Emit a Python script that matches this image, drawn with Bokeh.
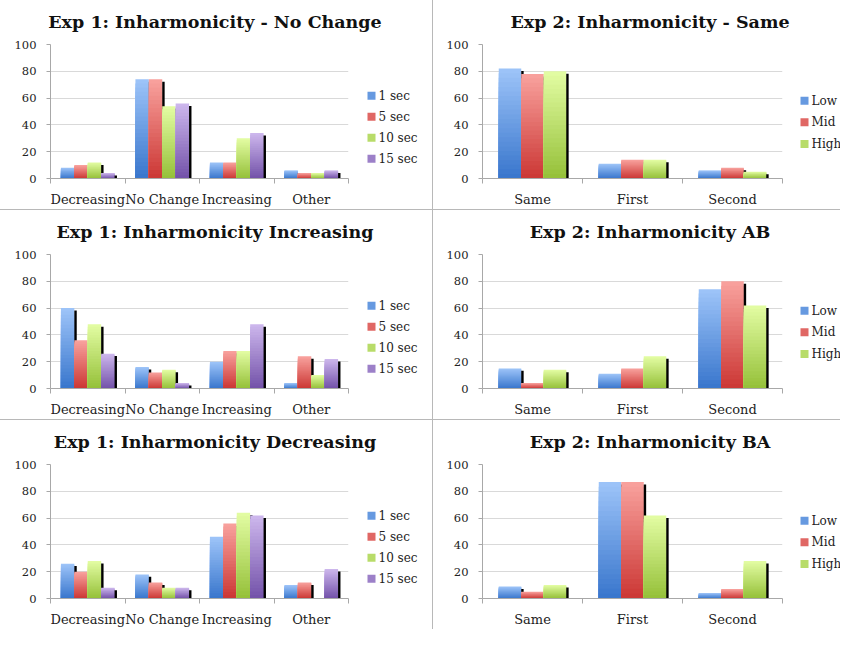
from bokeh.plotting import figure
from bokeh.models import ColumnDataSource, FixedTicker, Div, Range1d
from bokeh.layouts import row, column
from bokeh.core.properties import value
from bokeh.embed import file_html
from bokeh.resources import INLINE

# ---------------- data ----------------
exp1_categories = ["Decreasing", "No Change", "Increasing", "Other"]
exp1_series = ["1 sec", "5 sec", "10 sec", "15 sec"]
exp2_categories = ["Same", "First", "Second"]
exp2_series = ["Low", "Mid", "High"]
y_ticks = [0, 20, 40, 60, 80, 100]

# Exp 1 values, one list per series (1 sec, 5 sec, 10 sec, 15 sec)
exp1_no_change = [[8, 74, 12, 6], [10, 74, 12, 4], [12, 54, 30, 4], [4, 56, 34, 6]]
exp1_increasing = [[60, 16, 20, 4], [36, 12, 28, 24], [48, 14, 28, 10], [26, 4, 48, 22]]
exp1_decreasing = [[26, 18, 46, 10], [20, 12, 56, 12], [28, 8, 64, 0], [8, 8, 62, 22]]

# Exp 2 values, one list per series (Low, Mid, High)
exp2_same = [[82, 11, 6], [78, 14, 8], [80, 14, 5]]
exp2_ab = [[15, 11, 74], [4, 15, 80], [14, 24, 62]]
exp2_ba = [[9, 87, 4], [5, 87, 7], [10, 62, 28]]

# ---------------- style ----------------
FONT = "DejaVu Serif"
PALETTE = [("#9cc3f8", "#3a77cd"),   # blue
           ("#f8a09c", "#cc3936"),   # red
           ("#e2fca2", "#96c13a"),   # green
           ("#ccb6ec", "#7453aa")]   # purple
N_BANDS = 24
PANEL_H = 209
TITLE_H = 33
PLOT_H = PANEL_H - TITLE_H
B_TOP, B_BOT = 11, 29
FRAME_H = PLOT_H - B_TOP - B_BOT
GREY = "#a8a8a8"


def mix(c1, c2, t):
    a = [int(c1[i:i + 2], 16) for i in (1, 3, 5)]
    b = [int(c2[i:i + 2], 16) for i in (1, 3, 5)]
    return "#%02x%02x%02x" % tuple(round(a[k] + (b[k] - a[k]) * t) for k in range(3))


def make_panel(title, cats, series, values, bl, frame_w, leg_w, group_frac,
               pad_l, pad_r, leg_x, leg_y0, leg_pitch, leg_font):
    width = bl + frame_w + 2
    p = figure(width=width, height=PLOT_H, output_backend="svg", toolbar_location=None,
               x_range=Range1d(0.5, len(cats) + 0.5), y_range=Range1d(0, 100),
               min_border_left=bl, min_border_right=2,
               min_border_top=B_TOP, min_border_bottom=B_BOT,
               background_fill_color="white", border_fill_color="white")
    p.outline_line_color = None

    px_x = 1.0 / (frame_w / len(cats))
    px_y = 100.0 / FRAME_H

    n = len(series)
    bw = group_frac / n
    for i, vals in enumerate(values):
        light, dark = PALETTE[i]
        xs = [j + 1 - group_frac / 2 + bw * (i + 0.5) for j in range(len(cats))]
        bx, btop, bcol = [], [], []
        for k in range(N_BANDS):
            col = mix(light, dark, k / (N_BANDS - 1))
            for x, v in zip(xs, vals):
                if v > 0:
                    bx.append(x)
                    btop.append(v * (N_BANDS - k) / N_BANDS)
                    bcol.append(col)
        src = ColumnDataSource(dict(x=bx, top=btop, color=bcol))
        p.vbar(x="x", top="top", bottom=0, width=bw, source=src,
               fill_color="color", line_color=None)
        # dark shadow on the right side of each bar
        sx = [x + bw / 2 + px_x * 1.2 for x, v in zip(xs, vals) if v > 0]
        st = [max(v - 2.5 * px_y, 0) for v in vals if v > 0]
        p.vbar(x=sx, top=st, bottom=0, width=px_x * 2.4, fill_color="#000000",
               line_color=None)

    # axes
    p.xgrid.visible = False
    p.ygrid.grid_line_color = "#d9d9d9"
    p.ygrid.ticker = FixedTicker(ticks=y_ticks)
    p.yaxis.ticker = FixedTicker(ticks=y_ticks)
    p.yaxis.axis_line_color = GREY
    p.yaxis.major_tick_line_color = GREY
    p.yaxis.major_tick_out = 4
    p.yaxis.major_tick_in = 0
    p.yaxis.minor_tick_line_color = None
    p.yaxis.major_label_text_font = FONT
    p.yaxis.major_label_text_font_size = "11.5px"
    p.yaxis.major_label_text_color = "#222222"
    p.yaxis.major_label_standoff = 10

    p.xaxis.ticker = FixedTicker(ticks=[j + 1 for j in range(len(cats))],
                                 minor_ticks=[j + 0.5 for j in range(len(cats) + 1)])
    p.xaxis.major_label_overrides = {j + 1: c for j, c in enumerate(cats)}
    p.xaxis.axis_line_color = GREY
    p.xaxis.major_tick_line_color = None
    p.xaxis.minor_tick_line_color = GREY
    p.xaxis.minor_tick_out = 5
    p.xaxis.minor_tick_in = 0
    p.xaxis.major_tick_out = 0
    p.xaxis.major_tick_in = 0
    p.xaxis.major_label_text_font = FONT
    p.xaxis.major_label_text_font_size = "13px"
    p.xaxis.major_label_text_color = "#222222"
    p.xaxis.major_label_standoff = 8

    # legend drawn in its own small figure (pixel coordinates, y downwards)
    lg = figure(width=leg_w, height=PLOT_H, output_backend="svg", toolbar_location=None,
                x_range=Range1d(0, leg_w), y_range=Range1d(B_TOP + FRAME_H, B_TOP),
                x_axis_location=None, y_axis_location=None,
                min_border_left=0, min_border_right=0, min_border_top=B_TOP,
                min_border_bottom=B_BOT, background_fill_color="white",
                border_fill_color="white")
    lg.outline_line_color = None
    lg.xgrid.visible = False
    lg.ygrid.visible = False
    ly = [leg_y0 + i * leg_pitch for i in range(n)]
    lsrc = ColumnDataSource(dict(
        x=[leg_x] * n, tx=[leg_x + 7] * n, y=ly, label=list(series),
        color=[mix(PALETTE[i][0], PALETTE[i][1], 0.55) for i in range(n)]))
    lg.scatter(x="x", y="y", marker="square", size=8, fill_color="color",
               line_color=None, source=lsrc)
    lg.text(x="tx", y="y", text="label", source=lsrc, text_font=value(FONT),
            text_font_size=leg_font, text_baseline="middle", text_align="left",
            text_color="#222222")

    head = Div(text=title, width=width + leg_w, height=TITLE_H, margin=0,
               styles={"text-align": "center", "font-family": FONT,
                       "font-weight": "bold", "font-size": "17.5px",
                       "line-height": "20px", "padding-top": "12px",
                       "color": "#111111",
                       "padding-left": "%dpx" % pad_l, "padding-right": "%dpx" % pad_r,
                       "box-sizing": "border-box", "white-space": "nowrap"})
    return column(head, row(p, lg, spacing=0), spacing=0)


left_panels = [
    make_panel("Exp 1: Inharmonicity - No Change", exp1_categories, exp1_series,
               exp1_no_change, 50, 298, 82, 0.72, 0, 2, 21, 63, 21.3, "12px"),
    make_panel("Exp 1: Inharmonicity Increasing", exp1_categories, exp1_series,
               exp1_increasing, 50, 298, 82, 0.72, 0, 2, 21, 63, 21.3, "12px"),
    make_panel("Exp 1: Inharmonicity Decreasing", exp1_categories, exp1_series,
               exp1_decreasing, 50, 298, 82, 0.72, 0, 2, 21, 63, 21.3, "12px"),
]
right_panels = [
    make_panel("Exp 2: Inharmonicity - Same", exp2_categories, exp2_series,
               exp2_same, 49, 300, 56, 0.675, 27, 0, 20, 68, 22, "12px"),
    make_panel("Exp 2: Inharmonicity AB", exp2_categories, exp2_series,
               exp2_ab, 49, 300, 56, 0.675, 27, 0, 20, 68, 22, "12px"),
    make_panel("Exp 2: Inharmonicity BA", exp2_categories, exp2_series,
               exp2_ba, 49, 300, 56, 0.675, 27, 0, 20, 68, 22, "12px"),
]

SEP = "#b8b8b8"
TOTAL_W = (50 + 298 + 2 + 82) + 1 + (49 + 300 + 2 + 56)


def vsep():
    return Div(text="", width=1, height=PANEL_H, margin=0,
               styles={"background-color": SEP})


def hsep():
    return Div(text="", width=TOTAL_W, height=1, margin=0,
               styles={"background-color": SEP})


rows = []
for k in range(3):
    if k > 0:
        rows.append(hsep())
    rows.append(row(left_panels[k], vsep(), right_panels[k], spacing=0))
layout = column(*rows, spacing=0)

open("out.html", "w").write(file_html(layout, INLINE))
